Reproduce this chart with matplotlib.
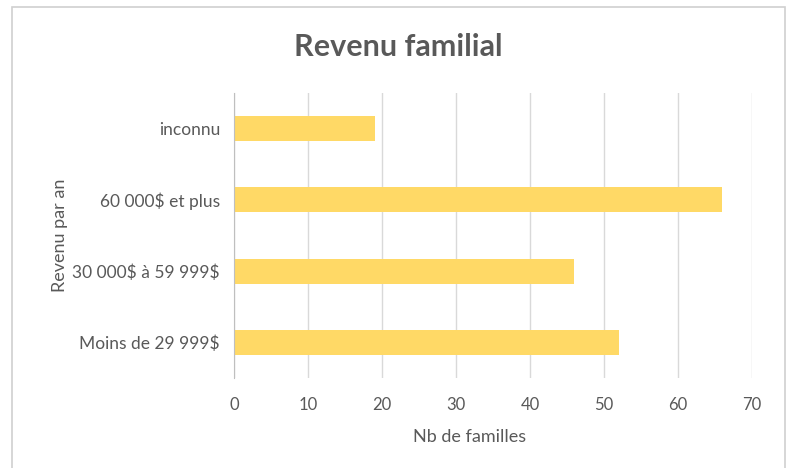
import matplotlib
matplotlib.use("Agg")
import matplotlib.pyplot as plt
from matplotlib.patches import Rectangle

# Data, bottom to top
categories = ["Moins de 29 999\\$", "30 000\\$ à 59 999\\$", "60 000\\$ et plus", "inconnu"]
values = [52, 46, 66, 19]
xticks = [0, 10, 20, 30, 40, 50, 60, 70]

BAR = "#FFD966"
TEXT = "#595959"
GRID = "#D9D9D9"

plt.rcParams["font.family"] = ["Lato", "DejaVu Sans"]

fig = plt.figure(figsize=(7.91, 4.68), dpi=100)
fig.patch.set_facecolor("white")

# chart frame (bottom edge runs off the image)
fig.patches.append(Rectangle((11.5 / 791, -0.05), (785 - 11.5) / 791, 1.05 - 7.5 / 468,
                             transform=fig.transFigure, fill=False,
                             edgecolor="#D0D0D0", linewidth=1.2))

ax = fig.add_axes([234 / 791, 1 - 378 / 468, (752 - 234) / 791, (378 - 93) / 468])
ypos = list(range(len(categories)))
ax.barh(ypos, values, height=0.35, color=BAR, zorder=3)

ax.set_xlim(0, 70)
ax.set_ylim(-0.5, len(categories) - 0.5)
ax.set_xticks(xticks)
ax.set_yticks(ypos)
ax.set_yticklabels(categories)
ax.tick_params(axis="both", length=0, colors=TEXT, labelsize=12)
ax.tick_params(axis="x", pad=14)
ax.tick_params(axis="y", pad=10, labelsize=12.5)
ax.grid(axis="x", color=GRID, linewidth=1, zorder=0)

for s in ("top", "right", "bottom"):
    ax.spines[s].set_visible(False)
ax.spines["left"].set_color("#BFBFBF")
ax.spines["left"].set_zorder(4)

ax.set_xlabel("Nb de familles", color=TEXT, fontsize=13)
ax.xaxis.set_label_coords(0.454, -0.18)
ax.set_ylabel("Revenu par an", color=TEXT, fontsize=13)
ax.yaxis.set_label_coords(-0.32, 0.5)

fig.text(398 / 791, 1 - 47 / 468, "Revenu familial", ha="center", va="center",
         fontsize=22, fontweight="bold", color=TEXT)

fig.savefig("out.png", dpi=100)
